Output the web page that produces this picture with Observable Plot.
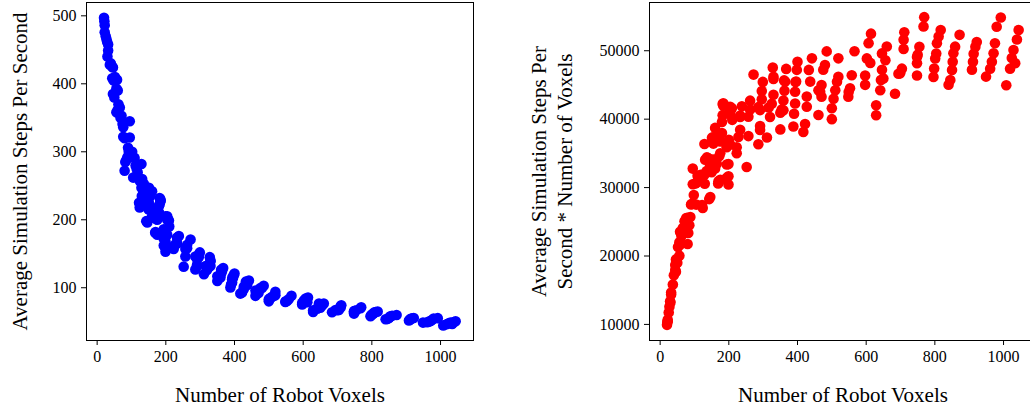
<!DOCTYPE html>
<html>
<head>
<meta charset="utf-8">
<script src="https://cdn.jsdelivr.net/npm/d3@7"></script>
<script src="https://cdn.jsdelivr.net/npm/@observablehq/plot@0.6"></script>
<style>
  html, body { margin: 0; padding: 0; background: #fff; overflow: hidden; }
  #wrap { position: relative; width: 1030px; height: 409px; overflow: hidden; background: #fff; }
  #left { position: absolute; left: 0; top: 0; width: 480px; height: 409px; }
  #right { position: absolute; left: 520px; top: 0; width: 516px; height: 409px; }
  #wrap svg { max-width: none !important; overflow: visible; }
  #wrap svg, #wrap svg text { font-family: "Liberation Serif", "Times New Roman", serif !important; }
</style>
</head>
<body>
<div id="wrap"><div id="left"></div><div id="right"></div></div>
<script>
// Number of robot voxels for each measured robot
const voxels = [
  20, 21, 22, 22, 25, 27, 29, 32, 32, 30, 37, 40, 44, 46, 44, 48, 52, 58, 56, 60,
  46, 50, 62, 66, 56, 60, 71, 68, 76, 74, 76, 80, 95, 95, 90, 85, 88, 80, 82, 92,
  98, 102, 105, 109, 105, 112, 115, 118, 124, 129, 129, 124, 122, 130, 135, 140, 153, 148, 145, 143,
  150, 155, 160, 172, 175, 180, 182, 182, 185, 169, 175, 194, 200, 199, 194, 204, 206, 210, 160, 184,
  165, 131, 150, 155, 155, 170, 175, 180, 184, 146, 136, 151, 175, 194, 194,
  199, 199, 204, 199, 209, 223, 223, 228, 233, 233, 238, 204, 233,
  252, 257, 257, 262, 262, 272, 286, 291, 291, 291, 296, 296, 299, 286,
  311, 316, 320, 325, 330, 330, 328, 330,
  350, 350, 359, 359, 362, 364, 367, 354, 361,
  388, 390, 393, 393, 396, 398, 400, 394,
  417, 422, 427, 427, 433, 437, 442,
  461, 461, 470, 470, 475, 480, 485, 466,
  500, 500, 505, 510, 515, 519, 519,
  548, 553, 558, 566, 549,
  597, 597, 602, 607, 614, 612,
  629, 629, 641, 643, 646, 646, 656, 660, 650,
  684, 694, 699, 704, 709, 709, 711,
  748, 748, 750, 755, 767, 769, 748,
  796, 798, 801, 804, 806, 811, 817,
  840, 845, 850, 852, 854, 859, 872,
  908, 911, 913, 918, 922,
  949, 961, 966, 971, 975, 980, 992,
  1008, 1019, 1024, 1029, 1034, 1039, 1044
];
// Average simulation steps per second for each robot
const stepsPerSecond = [
  497, 492, 486, 476, 470, 466, 462, 458, 449, 440, 428, 430, 425, 424, 408, 405, 410, 406, 393, 390,
  385, 380, 370, 365, 358, 362, 353, 350, 336, 341, 322, 320, 345, 321, 306, 288, 292, 272, 285, 300,
  295, 300, 292, 291, 262, 280, 275, 270, 257, 282, 247, 218, 225, 235, 240, 245, 242, 223, 230, 198,
  215, 220, 205, 201, 210, 220, 232, 223, 228, 181, 178, 186, 185, 159, 162, 200, 201, 190, 242, 230,
  203, 260, 227, 235, 241, 182, 200, 211, 228, 196, 253, 247, 216, 185, 172,
  153, 168, 178, 205, 199, 157, 161, 164, 165, 173, 176, 205, 174,
  131, 146, 157, 158, 163, 171, 127, 132, 134, 142, 145, 149, 152, 146,
  120, 132, 126, 130, 132, 140, 145, 139,
  110, 117, 115, 119, 122, 125, 129, 117, 126.5,
  100.3, 104.6, 107.6, 112, 114.9, 118.6, 121, 115.3,
  91.4, 93.1, 97.9, 101.4, 109, 104.1, 110.6,
  88.1, 95.9, 92.1, 95.7, 99.4, 99.8, 102.9, 94.4,
  80, 83.2, 85.1, 86.7, 88.3, 94.2, 89,
  79, 80.5, 83.2, 88.2, 80.1,
  75.4, 77.7, 81.2, 84.2, 85.5, 78.8,
  66.8, 64.5, 69, 71.1, 73.1, 76.8, 74.1, 76.7, 70.7,
  63.9, 67.2, 66.8, 67.3, 70.9, 72.8, 74.1,
  62, 64.4, 65.9, 67, 69.8, 71.4, 65.6,
  58, 59.4, 61, 61.7, 63.4, 64.2, 64.9,
  53.6, 54.1, 55.5, 56.8, 58.1, 58.9, 60,
  52, 53.1, 54.3, 55.1, 55.6,
  48.7, 49.3, 50.1, 51.1, 52.4, 54.6, 55.3,
  44.6, 46.5, 47.8, 48.7, 46.6, 49.7, 50.8
];
const xTicks = [0, 200, 400, 600, 800, 1000];
const leftYTicks = [100, 200, 300, 400, 500];
const rightYTicks = [10000, 20000, 30000, 40000, 50000];
const xLabel = "Number of Robot Voxels";
const leftYLabel = "Average Simulation Steps Per Second";
const rightYLabel = "Average Simulation Steps Per\nSecond * Number of Voxels";

const data = voxels.map((v, i) => ({voxels: v, sps: stepsPerSecond[i]}));

const font = "'Liberation Serif', 'Times New Roman', serif";
const styleStr = `font-family: ${font}; font-size: 16px; color: #000; background: #fff; overflow: visible;`;

const left = Plot.plot({
  width: 480, height: 409,
  marginLeft: 86, marginRight: 7, marginTop: 2, marginBottom: 69,
  style: styleStr,
  x: {domain: [-31, 1096], ticks: xTicks, tickSize: 5, tickPadding: 5, label: null, tickFormat: d => String(d)},
  y: {domain: [22.4, 519.6], ticks: leftYTicks, tickSize: 5, tickPadding: 5, label: null, tickFormat: d => String(d)},
  marks: [
    Plot.dot(data, {x: "voxels", y: "sps", r: 5.3, fill: "#0000ff", stroke: "none"}),
    Plot.frame({stroke: "#000", strokeWidth: 1}),
    Plot.text([xLabel], {text: d => d, frameAnchor: "bottom", dy: 61, lineAnchor: "bottom", textAnchor: "middle", fontSize: 21, fontFamily: font}),
    Plot.text([leftYLabel], {text: d => d, frameAnchor: "left", dx: -60, rotate: -90, lineAnchor: "bottom", textAnchor: "middle", fontSize: 21, fontFamily: font})
  ]
});
document.getElementById("left").appendChild(left);

const right = Plot.plot({
  width: 516, height: 409,
  marginLeft: 129, marginRight: 0, marginTop: 2, marginBottom: 69,
  style: styleStr,
  x: {domain: [-31, 1096], ticks: xTicks, tickSize: 5, tickPadding: 5, label: null, tickFormat: d => String(d)},
  y: {domain: [7650, 57050], ticks: rightYTicks, tickSize: 5, tickPadding: 5, label: null, tickFormat: d => String(d)},
  marks: [
    Plot.dot(data, {x: "voxels", y: d => d.voxels * d.sps, r: 5.3, fill: "#ff0000", stroke: "none"}),
    Plot.frame({stroke: "#000", strokeWidth: 1}),
    Plot.text([xLabel], {text: d => d, frameAnchor: "bottom", dy: 61, lineAnchor: "bottom", textAnchor: "middle", fontSize: 21, fontFamily: font}),
    Plot.text([rightYLabel], {text: d => d, frameAnchor: "left", dx: -78, rotate: -90, lineAnchor: "bottom", textAnchor: "middle", fontSize: 21, lineHeight: 1.2, fontFamily: font})
  ]
});
document.getElementById("right").appendChild(right);
</script>
</body>
</html>
